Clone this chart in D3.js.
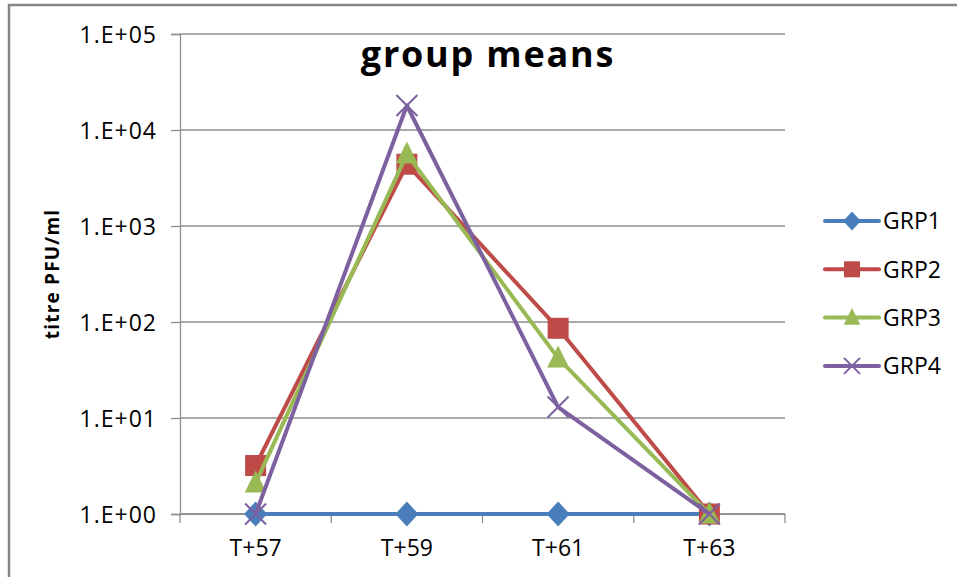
<!DOCTYPE html>
<html>
<head>
<meta charset="utf-8">
<script src="https://cdn.jsdelivr.net/npm/d3@7"></script>
<style>
  body { margin: 0; background: #fff; }
  svg text { font-family: "Open Sans", Lato, sans-serif; fill: #000; }
</style>
</head>
<body>
<div id="chart"></div>
<script>

// chart values
var categories = ['T+57', 'T+59', 'T+61', 'T+63'];
var seriesNames = ['GRP1', 'GRP2', 'GRP3', 'GRP4'];
var grp1 = [1, 1, 1, 1];
var grp2 = [3.2, 4400, 86, 1];
var grp3 = [2.1, 5600, 42, 1];
var grp4 = [1, 18000, 13, 1];
var yTicks = [1, 10, 100, 1000, 10000, 100000];

var colors = ['#4A7EBB', '#BE4B48', '#98B954', '#7D60A0'];
var shapes = ['diamond', 'square', 'triangle', 'cross'];
var allSeries = [grp1, grp2, grp3, grp4];

var width = 957, height = 577;
var plotLeft = 180, plotRight = 785, plotTop = 34, plotBottom = 514;

var svg = d3.select('#chart')
            .append('svg')
              .attr('width', width)
              .attr('height', height);

// outer chart border (only left and top are inside the picture)
svg.append('path')
    .attr('d', 'M9,' + height + ' L9,5 L' + width + ',5')
    .style('fill', 'none')
    .style('stroke', '#868686')
    .style('stroke-width', 2.5);

var x = d3.scaleBand().domain(categories).range([plotLeft, plotRight]);
var y = d3.scaleLog().domain([1, 100000]).range([plotBottom, plotTop]);

function fmtExp(d) {
    var e = Math.round(Math.log10(d));
    return '1.E+' + (e < 10 ? '0' + e : e);
};

// gridlines
svg.append('g')
    .selectAll('line')
    .data(yTicks)
    .enter().append('line')
      .attr('x1', plotLeft)
      .attr('x2', plotRight)
      .attr('y1', function(d) { return y(d); })
      .attr('y2', function(d) { return y(d); })
      .style('stroke', '#8c8c8c')
      .style('stroke-width', 1.3);

// y axis
var yAxis = d3.axisLeft(y).tickValues(yTicks).tickFormat(fmtExp).tickSize(9).tickPadding(14);
var gy = svg.append('g')
    .attr('transform', 'translate(' + plotLeft + ',0)')
    .call(yAxis);
gy.attr('font-family', null).attr('font-size', null);
gy.select('.domain').style('stroke', '#8c8c8c').style('stroke-width', 1.3);
gy.selectAll('.tick line').style('stroke', '#8c8c8c').style('stroke-width', 1.3);
gy.selectAll('.tick text').style('font-size', '23px').style('letter-spacing', '1px').attr('dy', '0.36em');

// x axis: labels at centers, tick marks between categories
var xAxis = d3.axisBottom(x).tickSize(0).tickPadding(26);
var gx = svg.append('g')
    .attr('transform', 'translate(0,' + plotBottom + ')')
    .call(xAxis);
gx.attr('font-family', null).attr('font-size', null);
gx.select('.domain').remove();
gx.selectAll('.tick text').style('font-size', '23px');

var bounds = categories.map(function(c) { return x(c); }).concat([x(categories[categories.length - 1]) + x.bandwidth()]);
svg.append('line')
    .attr('x1', plotLeft).attr('x2', plotRight)
    .attr('y1', plotBottom).attr('y2', plotBottom)
    .style('stroke', '#8c8c8c').style('stroke-width', 1.3);
svg.append('g')
    .selectAll('line')
    .data(bounds)
    .enter().append('line')
      .attr('x1', function(d) { return d; })
      .attr('x2', function(d) { return d; })
      .attr('y1', plotBottom)
      .attr('y2', plotBottom + 9)
      .style('stroke', '#8c8c8c')
      .style('stroke-width', 1.3);

// markers
function drawMarker(g, shape, cx, cy, color, s) {
    if (shape == 'diamond') {
        g.append('path')
          .attr('d', 'M' + cx + ',' + (cy - s * 0.6) + ' L' + (cx + s * 0.55) + ',' + cy + ' L' + cx + ',' + (cy + s * 0.6) + ' L' + (cx - s * 0.55) + ',' + cy + 'Z')
          .style('fill', color);
    } else if (shape == 'square') {
        g.append('rect')
          .attr('x', cx - s / 2).attr('y', cy - s / 2)
          .attr('width', s).attr('height', s)
          .style('fill', color);
    } else if (shape == 'triangle') {
        g.append('path')
          .attr('d', 'M' + cx + ',' + (cy - s * 0.6) + ' L' + (cx + s * 0.52) + ',' + (cy + s * 0.45) + ' L' + (cx - s * 0.52) + ',' + (cy + s * 0.45) + 'Z')
          .style('fill', color);
    } else {
        g.append('path')
          .attr('d', 'M' + (cx - s / 2) + ',' + (cy - s / 2) + ' L' + (cx + s / 2) + ',' + (cy + s / 2) + ' M' + (cx + s / 2) + ',' + (cy - s / 2) + ' L' + (cx - s / 2) + ',' + (cy + s / 2))
          .style('stroke', color)
          .style('stroke-width', 2)
          .style('fill', 'none');
    }
};

var line = d3.line()
    .x(function(d, i) { return x(categories[i]) + x.bandwidth() / 2; })
    .y(function(d) { return y(d); });

allSeries.forEach(function(values, k) {
    var g = svg.append('g').attr('class', 'series');
    g.append('path')
      .datum(values)
      .attr('d', line)
      .style('fill', 'none')
      .style('stroke', colors[k])
      .style('stroke-width', 4)
      .style('stroke-linejoin', 'round');
    values.forEach(function(v, i) {
        drawMarker(g, shapes[k], x(categories[i]) + x.bandwidth() / 2, y(v), colors[k], 21);
    });
});

// title
svg.append('text')
    .attr('x', 488)
    .attr('y', 67)
    .attr('text-anchor', 'middle')
    .style('font-size', '36px')
    .style('font-weight', 'bold')
    .style('letter-spacing', '1.8px')
    .text('group means');

// y axis title
svg.append('text')
    .attr('transform', 'translate(59,274) rotate(-90)')
    .attr('text-anchor', 'middle')
    .style('font-size', '19px')
    .style('font-weight', 'bold')
    .style('letter-spacing', '1.2px')
    .text('titre PFU/ml');

// legend
var legend = svg.append('g').attr('transform', 'translate(825,221)');
seriesNames.forEach(function(name, k) {
    var gl = legend.append('g').attr('transform', 'translate(0,' + (k * 48.3) + ')');
    gl.append('line')
      .attr('x1', 0).attr('x2', 54)
      .attr('y1', 0).attr('y2', 0)
      .style('stroke', colors[k])
      .style('stroke-width', 4)
      .style('stroke-linecap', 'round');
    drawMarker(gl, shapes[k], 27, 0, colors[k], 16);
    gl.append('text')
      .attr('x', 58)
      .attr('y', 0)
      .attr('dy', '0.36em')
      .style('font-size', '23px')
      .text(name);
});

</script>
</body>
</html>
